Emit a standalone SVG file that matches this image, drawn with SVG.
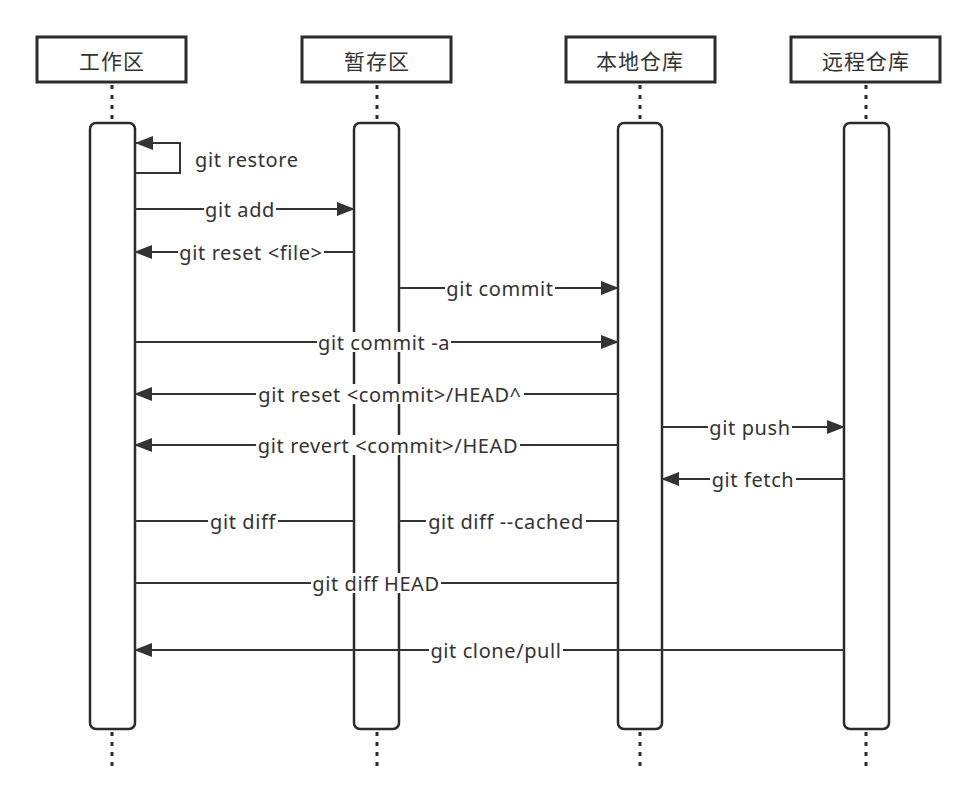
<svg xmlns="http://www.w3.org/2000/svg" width="976" height="807" viewBox="0 0 976 807">
<defs>
<marker id="ah" markerWidth="18" markerHeight="14" refX="17" refY="7" orient="auto" markerUnits="userSpaceOnUse">
<path d="M0,0 L18,7 L0,14 Z" fill="#333"/>
</marker>
<style>
.hdr{fill:#fff;stroke:#2b2b2b;stroke-width:3}
.htxt{font-family:"Noto Sans CJK SC","Noto Sans",sans-serif;font-size:21px;fill:#333;text-anchor:middle;dominant-baseline:central;letter-spacing:1px}
.bar{fill:#fff;stroke:#2b2b2b;stroke-width:2.5}
.life{stroke:#2b2b2b;stroke-width:3;stroke-dasharray:4,6;fill:none}
.msg{stroke:#333;stroke-width:2;fill:none}
.lbl{font-family:"Noto Sans","Noto Sans CJK SC",sans-serif;font-size:20px;letter-spacing:0.6px;fill:#333;text-anchor:middle;dominant-baseline:central}
.lb{fill:#fff}
</style>
</defs>
<rect width="976" height="807" fill="#fff"/>
<g id="lifelines">
<line class="life" x1="112" y1="85" x2="112" y2="123"/>
<line class="life" x1="112" y1="732" x2="112" y2="772"/>
<line class="life" x1="377" y1="85" x2="377" y2="123"/>
<line class="life" x1="377" y1="732" x2="377" y2="772"/>
<line class="life" x1="640" y1="85" x2="640" y2="123"/>
<line class="life" x1="640" y1="732" x2="640" y2="772"/>
<line class="life" x1="866" y1="85" x2="866" y2="123"/>
<line class="life" x1="866" y1="732" x2="866" y2="772"/>
</g>
<g id="n-workspace">
<rect class="hdr" x="37" y="37" width="149" height="45"/>
<text class="htxt" x="112" y="60">工作区</text>
<rect class="bar" x="90" y="123" width="45" height="606" rx="6"/>
</g>
<g id="n-stage">
<rect class="hdr" x="302" y="37" width="149" height="45"/>
<text class="htxt" x="377" y="60">暂存区</text>
<rect class="bar" x="354" y="123" width="45" height="606" rx="6"/>
</g>
<g id="n-local">
<rect class="hdr" x="566" y="37" width="149" height="45"/>
<text class="htxt" x="640" y="60">本地仓库</text>
<rect class="bar" x="618" y="123" width="44" height="606" rx="6"/>
</g>
<g id="n-remote">
<rect class="hdr" x="791" y="37" width="149" height="45"/>
<text class="htxt" x="866" y="60">远程仓库</text>
<rect class="bar" x="844" y="123" width="45" height="606" rx="6"/>
</g>
<g id="connectors">
<path class="msg" d="M135,173 H180 V143 H136" marker-end="url(#ah)"/>
<text class="lbl" x="195" y="159" style="text-anchor:start">git restore</text>

<line class="msg" x1="135" y1="209" x2="354" y2="209" marker-end="url(#ah)"/>
<rect class="lb" x="204" y="199" width="72" height="20"/>
<text class="lbl" x="240" y="209">git add</text>

<line class="msg" x1="354" y1="252" x2="135" y2="252" marker-end="url(#ah)"/>
<rect class="lb" x="178" y="242" width="146" height="20"/>
<text class="lbl" x="251" y="252">git reset &lt;file&gt;</text>

<line class="msg" x1="399" y1="288" x2="618" y2="288" marker-end="url(#ah)"/>
<rect class="lb" x="445" y="278" width="110" height="20"/>
<text class="lbl" x="500" y="288">git commit</text>

<line class="msg" x1="135" y1="342" x2="618" y2="342" marker-end="url(#ah)"/>
<rect class="lb" x="317" y="332" width="134" height="20"/>
<text class="lbl" x="384" y="342">git commit -a</text>

<line class="msg" x1="618" y1="394" x2="135" y2="394" marker-end="url(#ah)"/>
<rect class="lb" x="256" y="384" width="268" height="20"/>
<text class="lbl" x="390" y="394">git reset &lt;commit&gt;/HEAD^</text>

<line class="msg" x1="662" y1="427" x2="844" y2="427" marker-end="url(#ah)"/>
<rect class="lb" x="708" y="417" width="84" height="20"/>
<text class="lbl" x="750" y="427">git push</text>

<line class="msg" x1="618" y1="445" x2="135" y2="445" marker-end="url(#ah)"/>
<rect class="lb" x="256" y="435" width="264" height="20"/>
<text class="lbl" x="388" y="445">git revert &lt;commit&gt;/HEAD</text>

<line class="msg" x1="844" y1="479" x2="662" y2="479" marker-end="url(#ah)"/>
<rect class="lb" x="710" y="469" width="86" height="20"/>
<text class="lbl" x="753" y="479">git fetch</text>

<line class="msg" x1="135" y1="521" x2="354" y2="521"/>
<rect class="lb" x="208" y="511" width="70" height="20"/>
<text class="lbl" x="243" y="521">git diff</text>

<line class="msg" x1="399" y1="521" x2="618" y2="521"/>
<rect class="lb" x="426" y="511" width="160" height="20"/>
<text class="lbl" x="506" y="521">git diff --cached</text>

<line class="msg" x1="135" y1="583" x2="618" y2="583"/>
<rect class="lb" x="311" y="573" width="130" height="20"/>
<text class="lbl" x="376" y="583">git diff HEAD</text>

<line class="msg" x1="844" y1="650" x2="135" y2="650" marker-end="url(#ah)"/>
<rect class="lb" x="429" y="640" width="134" height="20"/>
<text class="lbl" x="496" y="650">git clone/pull</text>
</g>
</svg>
